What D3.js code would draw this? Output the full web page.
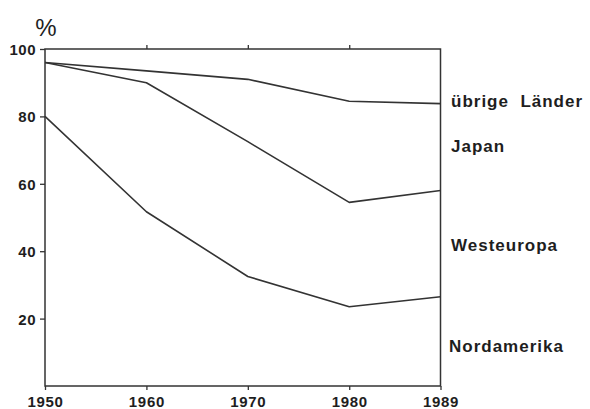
<!DOCTYPE html>
<html><head><meta charset="utf-8">
<script src="https://cdn.jsdelivr.net/npm/d3@7"></script>
<style>body{margin:0;background:#fff}svg text{font-family:"Liberation Sans",Arial,sans-serif;font-weight:bold;fill:#1e1e1e}</style>
</head><body><svg id="c" width="590" height="409"></svg>
<script>
const years = [1950, 1960, 1970, 1980, 1989];
const uebrige = [96, 93.5, 91, 84.5, 83.8];
const middle = [96, 90, 72.5, 54.5, 58];
const lower = [80, 51.7, 32.5, 23.5, 26.5];
const yTicks = [20, 40, 60, 80, 100];
const labels = ["übrige  Länder", "Japan", "Westeuropa", "Nordamerika"];
const labelY = [107, 151.5, 250.5, 351.5];
const labelX = [451, 451, 451, 449];

const svg = d3.select("#c");
const x = d3.scaleLinear().domain([1950, 1989]).range([45, 440.5]);
const y = d3.scaleLinear().domain([0, 100]).range([386, 49]);
const col = "#333";

svg.append("rect").attr("x", x(1950)).attr("y", y(100)).attr("width", x(1989)-x(1950)).attr("height", y(0)-y(100))
  .attr("fill", "none").attr("stroke", col).attr("stroke-width", 1.5);

const ya = svg.append("g").attr("transform", `translate(${x(1950)},0)`)
  .call(d3.axisLeft(y).tickValues(yTicks).tickSize(5).tickPadding(4));
ya.select(".domain").remove();
ya.selectAll("line").attr("stroke", col).attr("stroke-width", 1.3);
ya.selectAll("text").style("font-size", "15px").style("letter-spacing", "0.5px").attr("dy", "0.36em");

const xa = svg.append("g").attr("transform", `translate(0,${y(0)})`)
  .call(d3.axisBottom(x).tickValues(years).tickFormat(d3.format("d")).tickSize(4).tickPadding(4));
xa.select(".domain").remove();
xa.selectAll("line").attr("stroke", col).attr("stroke-width", 1.3);
xa.selectAll("text").style("font-size", "15px").style("letter-spacing", "0.7px").attr("dy", "0.84em");

const ta = svg.append("g").attr("transform", `translate(0,${y(100)})`)
  .call(d3.axisTop(x).tickValues([1960, 1970, 1980]).tickSize(4).tickFormat(""));
ta.select(".domain").remove();
ta.selectAll("line").attr("stroke", col).attr("stroke-width", 1.3);

svg.append("text").attr("x", 46).attr("y", 36).attr("text-anchor", "middle").style("font-size", "24px").style("font-weight", "normal").text("%");

const line = d3.line().x((d, i) => x(years[i])).y(d => y(d));
[uebrige, middle, lower].forEach(s => {
  svg.append("path").attr("d", line(s)).attr("fill", "none").attr("stroke", col).attr("stroke-width", 1.6).attr("stroke-linejoin", "round");
});

labels.forEach((t, i) => {
  svg.append("text").attr("x", labelX[i]).attr("y", labelY[i]).style("font-size", "17px").style("letter-spacing", "1px").attr("xml:space", "preserve").text(t);
});
</script></body></html>
